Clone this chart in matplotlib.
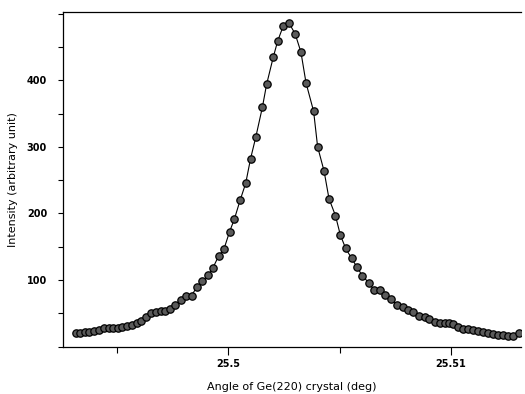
import matplotlib
matplotlib.use("Agg")
import matplotlib.pyplot as plt
from matplotlib.ticker import MultipleLocator, FixedLocator

angle = [
    25.49316, 25.49335, 25.49357, 25.49376, 25.49398, 25.49421, 25.49442, 25.49463,
    25.49484, 25.49503, 25.49524, 25.49545, 25.49566, 25.49589, 25.49609, 25.49630,
    25.49653, 25.49674, 25.49696, 25.49716, 25.49738, 25.49761, 25.49786, 25.49810,
    25.49835, 25.49858, 25.49883, 25.49910, 25.49931, 25.49957, 25.49980, 25.50006,
    25.50027, 25.50053, 25.50078, 25.50100, 25.50123, 25.50153, 25.50172, 25.50202,
    25.50222, 25.50247, 25.50272, 25.50300, 25.50326, 25.50349, 25.50383, 25.50401,
    25.50430, 25.50452, 25.50481, 25.50503, 25.50527, 25.50554, 25.50577, 25.50602,
    25.50632, 25.50653, 25.50681, 25.50705, 25.50732, 25.50756, 25.50783, 25.50808,
    25.50831, 25.50858, 25.50882, 25.50903, 25.50930, 25.50951, 25.50972, 25.50992,
    25.51010, 25.51033, 25.51055, 25.51078, 25.51100, 25.51123, 25.51145, 25.51167,
    25.51190, 25.51212, 25.51235, 25.51257, 25.51280, 25.51307,
]

intensity = [
    20.7, 20.7, 21.7, 22.6, 24.1, 25.6, 27.7, 27.7,
    27.7, 28.1, 28.9, 30.4, 31.9, 34.9, 38.6, 43.9,
    49.9, 52.8, 53.1, 53.6, 57.3, 63.3, 70.1, 75.6,
    76.8, 89.1, 98.5, 107.0, 118.4, 136.4, 146.1, 172.9,
    191.3, 219.8, 245.2, 282.3, 314.1, 359.4, 393.9, 434.9,
    459.3, 481.7, 486.2, 469.8, 442.4, 396.0, 353.4, 300.1,
    263.6, 222.3, 196.9, 167.7, 147.5, 132.5, 119.9, 106.4,
    95.5, 85.5, 85.0, 77.5, 71.6, 62.6, 59.1, 55.5,
    51.6, 46.6, 44.2, 40.9, 36.7, 35.2, 35.5, 35.8,
    33.7, 29.2, 26.6, 26.6, 25.6, 24.1, 21.7, 20.2,
    19.2, 18.1, 17.7, 16.6, 15.7, 20.2,
]

xticks = [25.50, 25.51]
xtick_labels = ["25.5", "25.51"]
yticks = [100, 200, 300, 400]
ytick_labels = ["100", "200", "300", "400"]

fig = plt.figure(figsize=(5.25, 3.94), dpi=100)
ax = fig.add_axes([0.12, 0.12, 0.8724, 0.8487])

ax.plot(angle, intensity, color="black", linewidth=0.8,
        marker="o", markersize=5.3, markerfacecolor="#5a5a5a",
        markeredgecolor="black", markeredgewidth=0.9)

ax.set_xlim(25.49258, 25.51314)
ax.set_ylim(0, 502)

ax.xaxis.set_major_locator(FixedLocator(xticks))
ax.set_xticklabels(xtick_labels, fontsize=7, fontweight="bold")
ax.xaxis.set_minor_locator(MultipleLocator(0.005))
ax.yaxis.set_major_locator(FixedLocator(yticks))
ax.set_yticklabels(ytick_labels, fontsize=7, fontweight="bold")
ax.yaxis.set_minor_locator(MultipleLocator(50))

ax.tick_params(axis="x", which="major", direction="out", length=6, width=0.8, pad=3)
ax.tick_params(axis="x", which="minor", direction="out", length=4, width=0.8)
ax.tick_params(axis="y", which="major", direction="out", length=3.5, width=0.8, pad=8)
ax.tick_params(axis="y", which="minor", direction="out", length=3.5, width=0.8)

ax.spines["right"].set_visible(False)
for s in ["left", "bottom", "top"]:
    ax.spines[s].set_linewidth(0.9)

ax.set_xlabel("Angle of Ge(220) crystal (deg)", fontsize=8, labelpad=9)
ax.set_ylabel("Intensity (arbitrary unit)", fontsize=8, labelpad=6)

fig.savefig("out.png", dpi=100)
